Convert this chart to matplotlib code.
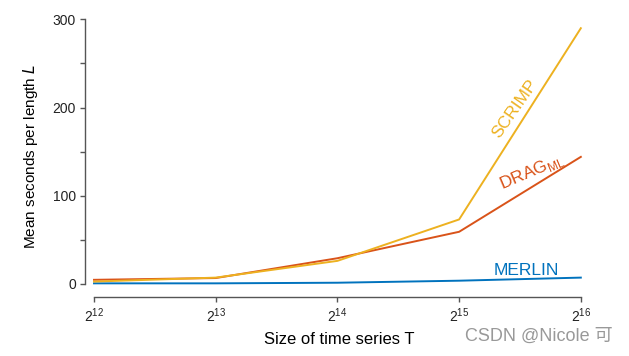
import matplotlib.pyplot as plt
from matplotlib.ticker import FixedLocator

plt.rcParams["font.family"] = ["Liberation Sans", "Noto Sans CJK SC", "DejaVu Sans"]

exponents = [12, 13, 14, 15, 16]
scrimp = [2.5, 7, 26, 73, 290]
drag_ml = [4.5, 6.5, 29, 59, 144]
merlin = [0.5, 0.5, 1.2, 3.5, 7]

y_major = [0, 100, 200, 300]
y_minor = [50, 150, 250]

c_scrimp = "#EDB120"
c_drag = "#D95319"
c_merlin = "#0072BD"
axis_grey = "#555555"

fig = plt.figure(figsize=(6.29, 3.56), dpi=100)
ax = fig.add_axes([85 / 629, 59 / 356, 508 / 629, 282 / 356])

ax.plot(exponents, merlin, color=c_merlin, lw=1.4)
ax.plot(exponents, drag_ml, color=c_drag, lw=1.4)
ax.plot(exponents, scrimp, color=c_scrimp, lw=1.4)

ax.set_xlim(11.926, 16.1)
ax.set_ylim(-15, 305)

for side in ("top", "right"):
    ax.spines[side].set_visible(False)
ax.spines["left"].set_bounds(0, 300)
ax.spines["bottom"].set_bounds(12, 16)
for side in ("left", "bottom"):
    ax.spines[side].set_color(axis_grey)
    ax.spines[side].set_linewidth(1.0)

ax.yaxis.set_major_locator(FixedLocator(y_major))
ax.yaxis.set_minor_locator(FixedLocator(y_minor))
ax.set_yticklabels([str(v) for v in y_major])
ax.set_xticks(exponents)
ax.set_xticklabels([rf"$\mathregular{{2^{{{e}}}}}$" for e in exponents])
ax.tick_params(axis="both", which="both", direction="out", length=3.5,
               color=axis_grey, width=1.0, labelsize=10, colors="#222222")
ax.tick_params(axis="x", pad=3, labelsize=10)
ax.tick_params(axis="y", pad=3)

ax.set_ylabel("Mean seconds per length $\\it{L}$", fontsize=11, labelpad=9)
ax.set_xlabel("Size of time series T", fontsize=12, labelpad=5)

ax.text(15.46, 198, "SCRIMP", color=c_scrimp, fontsize=12.5, rotation=55,
        ha="center", va="center")
ax.text(15.60, 127, r"DRAG$_{\mathregular{ML}}$", color=c_drag, fontsize=12.5,
        rotation=23, ha="center", va="center")
ax.text(15.55, 15, "MERLIN", color=c_merlin, fontsize=12.5, ha="center",
        va="center")

fig.text(0.856, 0.055, "CSDN @Nicole 可", color="#999999", fontsize=13,
         ha="center", va="center")

fig.savefig("out.png", dpi=100)
